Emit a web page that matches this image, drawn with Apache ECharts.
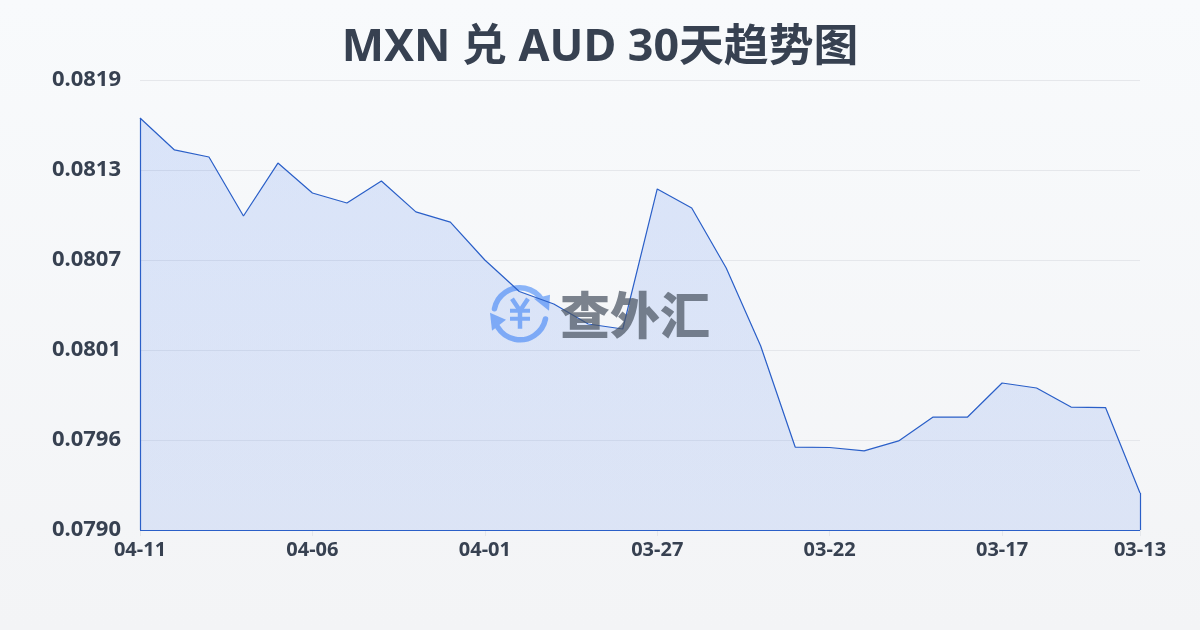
<!DOCTYPE html>
<html><head><meta charset="utf-8">
<style>html,body{margin:0;padding:0;background:#f8fafc}#c{width:1200px;height:630px}</style>
<script src="https://cdn.jsdelivr.net/npm/echarts@6/dist/echarts.min.js"></script></head>
<body><div id="c"></div>
<script>
const categories = ["04-11","04-10","04-09","04-08","04-07","04-06","04-05","04-04","04-03","04-02","04-01","03-31","03-30","03-29","03-28","03-27","03-26","03-25","03-24","03-23","03-22","03-21","03-20","03-19","03-18","03-17","03-16","03-15","03-14","03-13"];
const rates = [0.08162,0.081415,0.08137,0.080992,0.081331,0.081139,0.081075,0.081216,0.081018,0.080953,0.08071,0.080508,0.080428,0.0803,0.080268,0.081165,0.081043,0.080659,0.080159,0.079512,0.079509,0.079487,0.079551,0.079704,0.079704,0.079922,0.07989,0.079768,0.079765,0.079218];
const axisMin = 0.0789805, axisStep = 0.0005765, axisMax = 0.081863;
const ink = '#374151', lineBlue = '#2a5fc8', logoBlue = '#8ab4f8';
const chart = echarts.init(document.getElementById('c'), null, {renderer:'canvas'});
const font = '"Noto Sans","Noto Sans CJK SC",sans-serif';
const last = categories.length - 1;
chart.setOption({
  animation:false,
  backgroundColor:{type:'linear',x:0,y:0,x2:0,y2:1,colorStops:[{offset:0,color:'#f8fafc'},{offset:1,color:'#f3f4f6'}]},
  title:{text:'MXN 兑 AUD 30天趋势图',left:'center',top:21,textStyle:{fontFamily:font,fontSize:44.8,fontWeight:'bold',color:'#374151'}},
  grid:{left:140,right:60,top:80,bottom:100,containLabel:false},
  xAxis:{type:'category',data:categories,boundaryGap:false,
    axisLine:{show:false},
    axisTick:{show:true,length:6,lineStyle:{color:'#e5e7eb'},interval:(i)=>i%5===0||i===last},
    axisLabel:{interval:(i)=>i%5===0||i===last,showMinLabel:true,showMaxLabel:true,hideOverlap:false,margin:10,fontFamily:font,fontSize:20,fontWeight:'bold',color:ink},
    splitLine:{show:false}},
  yAxis:{type:'value',min:axisMin,max:axisMax,interval:axisStep,
    axisLine:{show:false},axisTick:{show:false},
    axisLabel:{formatter:v=>v.toFixed(4),margin:19,fontFamily:font,fontSize:22,fontWeight:'bold',color:ink},
    splitLine:{lineStyle:{color:'#e5e7eb',width:1}}},
  series:[{type:'line',data:rates,symbol:'none',smooth:false,
    lineStyle:{color:lineBlue,width:1.2},
    areaStyle:{color:{type:'linear',x:0,y:0,x2:0,y2:1,colorStops:[{offset:0,color:'rgba(37,99,235,0.2)'},{offset:1,color:'rgba(37,99,235,0.165)'}]}},
    markLine:{silent:true,symbol:'none',label:{show:false},lineStyle:{color:lineBlue,width:1.2,type:'solid'},
      data:[
        [{xAxis:0,yAxis:rates[0]},{xAxis:0,yAxis:axisMin}],
        [{xAxis:last,yAxis:rates[last]},{xAxis:last,yAxis:axisMin}],
        [{xAxis:0,yAxis:axisMin},{xAxis:last,yAxis:axisMin}]
      ]}}],
  graphic:[
    {type:'group',left:490,top:285,silent:true,z:100,children:[
      {type:'arc',shape:{cx:30,cy:30,r:26,startAngle:-2.95,endAngle:-0.55},style:{stroke:logoBlue,fill:null,lineWidth:5.5,lineCap:'round'}},
      {type:'arc',shape:{cx:30,cy:30,r:26,startAngle:0.2,endAngle:2.6},style:{stroke:logoBlue,fill:null,lineWidth:5.5,lineCap:'round'}},
      {type:'polygon',shape:{points:[[44,15],[60,11],[59,27]]},style:{fill:logoBlue}},
      {type:'polygon',shape:{points:[[0,29],[16,36],[2,47]]},style:{fill:logoBlue}},
      {type:'polyline',shape:{points:[[22,15],[30,27],[38,15]]},style:{stroke:logoBlue,fill:null,lineWidth:4.5}},
      {type:'line',shape:{x1:20,y1:27,x2:40,y2:27},style:{stroke:logoBlue,lineWidth:4}},
      {type:'line',shape:{x1:20,y1:35,x2:40,y2:35},style:{stroke:logoBlue,lineWidth:4}},
      {type:'line',shape:{x1:30,y1:27,x2:30,y2:45},style:{stroke:logoBlue,lineWidth:4.5}}
    ]},
    {type:'text',left:560,top:290,silent:true,z:100,style:{text:'查外汇',font:'900 50px "Noto Sans CJK SC",sans-serif',fill:'rgba(75,85,99,0.72)'}}
  ]
});
</script></body></html>
